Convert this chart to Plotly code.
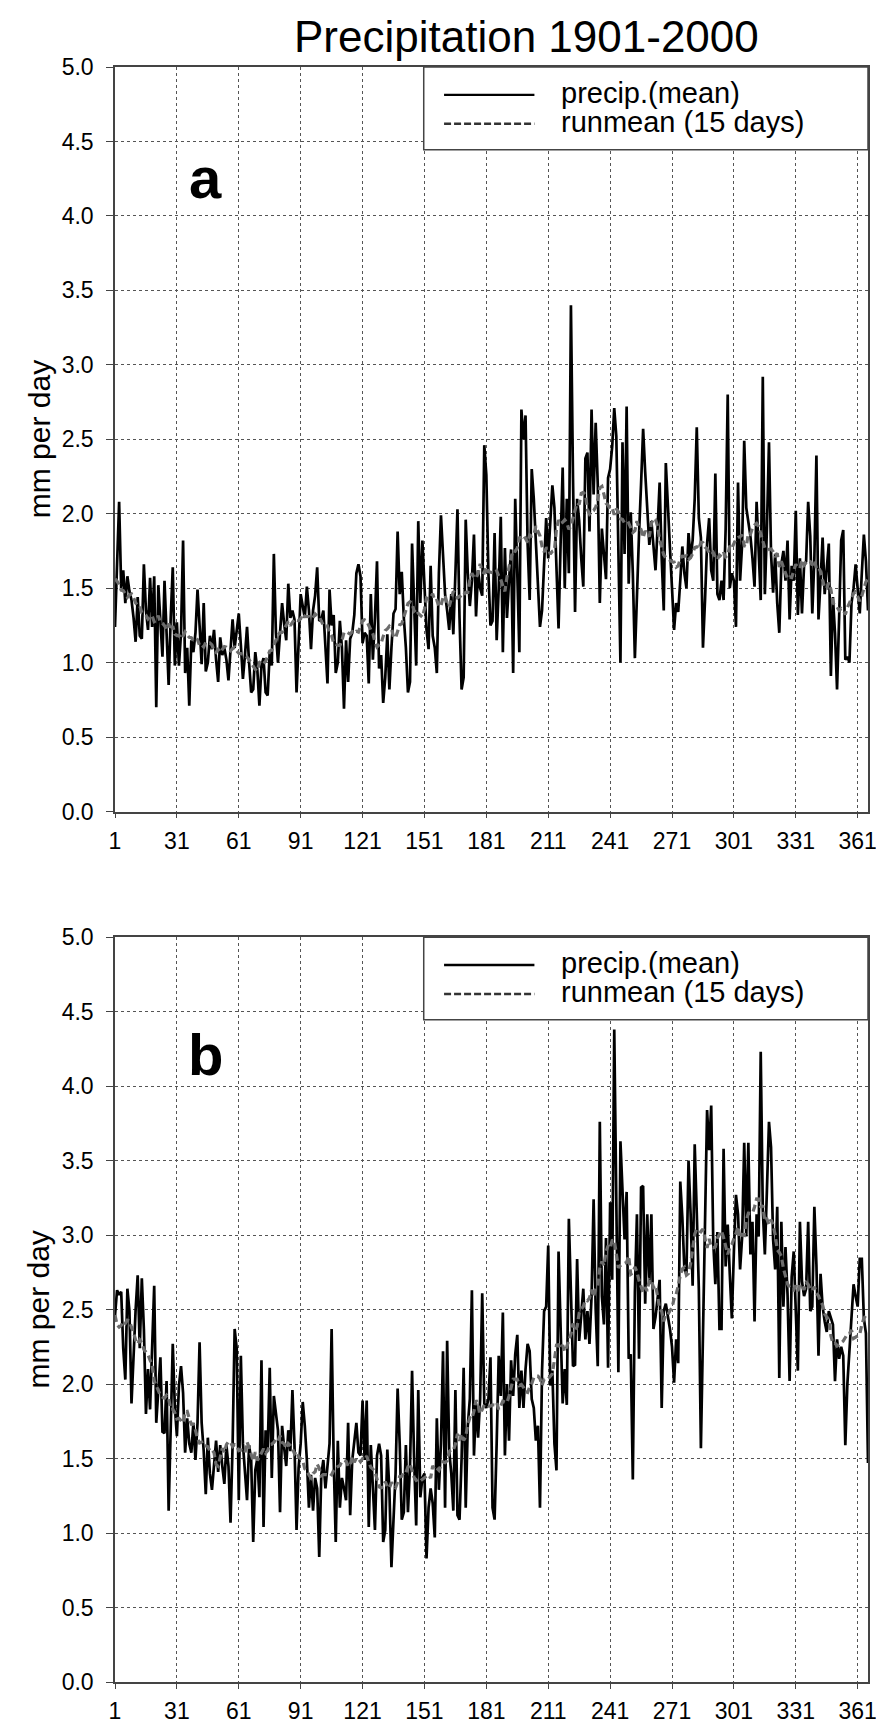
import pandas as pd
import plotly.graph_objects as go
from plotly.subplots import make_subplots

# daily mean precipitation (mm per day), day of year 1..366
precip_a = [
    1.24, 1.60, 2.08, 1.50, 1.62, 1.40, 1.58, 1.48, 1.42, 1.30,
    1.14, 1.44, 1.18, 1.16, 1.66, 1.35, 1.22, 1.57, 1.24, 1.58,
    0.70, 1.52, 1.30, 1.04, 1.55, 1.20, 0.85, 1.30, 1.64, 0.98,
    1.27, 0.98, 1.20, 1.82, 0.93, 1.10, 0.71, 1.15, 1.07, 1.20,
    1.49, 1.25, 0.99, 1.40, 0.94, 1.00, 1.18, 1.09, 1.22, 1.02,
    0.87, 1.17, 1.05, 1.10, 1.02, 0.88, 1.10, 1.29, 1.10, 1.20,
    1.33, 1.12, 0.89, 1.05, 1.24, 1.00, 0.80, 0.82, 1.07, 0.95,
    0.71, 0.98, 1.03, 0.80, 0.78, 1.07, 0.98, 1.73, 1.20, 1.00,
    1.20, 1.40, 1.26, 1.15, 1.53, 1.30, 1.35, 1.29, 0.80, 1.10,
    1.46, 1.38, 1.30, 1.51, 1.35, 1.09, 1.35, 1.45, 1.64, 1.28,
    1.29, 1.35, 1.10, 0.86, 1.49, 1.25, 1.32, 0.93, 1.00, 1.28,
    1.10, 0.69, 1.15, 0.87, 1.16, 1.20, 1.32, 1.60, 1.66, 1.58,
    1.13, 1.20, 1.18, 0.86, 1.46, 1.02, 1.30, 1.68, 0.96, 1.05,
    0.73, 0.90, 1.19, 0.82, 1.10, 1.33, 1.36, 1.88, 1.46, 1.61,
    1.30, 1.10, 0.80, 0.87, 1.80, 1.30, 0.98, 1.95, 1.40, 1.82,
    1.50, 1.22, 1.09, 1.65, 1.18, 1.10, 0.93, 1.60, 1.99, 1.70,
    1.46, 1.35, 1.22, 1.46, 1.19, 1.60, 2.03, 1.30, 0.82, 0.90,
    1.96, 1.60, 1.38, 1.55, 1.86, 1.31, 1.62, 1.50, 1.45, 2.46,
    2.26, 1.60, 1.25, 1.28, 1.87, 1.15, 1.50, 1.98, 1.07, 1.77,
    1.30, 1.55, 1.76, 0.93, 2.10, 1.60, 1.07, 2.70, 2.50, 2.66,
    1.80, 1.42, 2.30, 2.10, 1.82, 1.50, 1.24, 1.35, 1.70, 1.97,
    1.70, 1.98, 2.19, 2.04, 1.60, 1.23, 1.80, 2.31, 1.50, 2.10,
    1.60, 3.40, 2.24, 1.34, 2.10, 1.95, 1.70, 1.51, 2.37, 2.41,
    1.88, 2.70, 2.13, 2.61, 2.20, 1.40, 1.90, 1.75, 1.56, 2.24,
    2.30, 2.45, 2.71, 2.52, 1.60, 1.00, 2.48, 1.73, 2.72, 1.53,
    2.01, 1.60, 1.03, 1.50, 1.86, 2.20, 2.57, 2.28, 2.00, 1.79,
    1.95, 1.75, 1.62, 1.90, 2.21, 1.70, 1.35, 2.34, 2.00, 1.77,
    1.50, 1.22, 1.40, 1.34, 1.55, 1.78, 1.60, 1.50, 1.87, 1.70,
    1.82, 2.10, 2.58, 1.97, 1.84, 1.10, 1.42, 1.80, 1.97, 1.62,
    1.55, 2.27, 1.46, 1.42, 1.55, 1.42, 1.90, 2.80, 1.50, 1.60,
    1.55, 1.24, 2.21, 1.55, 1.80, 2.49, 2.04, 1.95, 1.85, 1.70,
    1.51, 2.08, 1.70, 1.42, 2.92, 1.46, 1.90, 2.48, 1.73, 1.47,
    1.73, 1.40, 1.20, 1.66, 1.75, 1.55, 1.82, 1.29, 1.65, 1.55,
    2.02, 1.32, 1.70, 1.33, 1.65, 1.68, 2.08, 1.85, 1.33, 1.70,
    2.39, 1.29, 1.55, 1.84, 1.46, 1.65, 1.80, 0.91, 1.44, 1.20,
    0.82, 1.30, 1.82, 1.89, 1.02, 1.04, 1.00, 1.40, 1.50, 1.66,
    1.51, 1.33, 1.60, 1.86, 1.68, 1.35,
]

precip_b = [
    2.46, 2.63, 2.60, 2.62, 2.24, 2.03, 2.64, 2.49, 1.87, 2.24,
    2.50, 2.73, 2.24, 2.71, 2.37, 1.80, 2.10, 1.83, 2.24, 2.66,
    1.74, 1.95, 2.18, 1.68, 1.67, 2.02, 1.15, 1.70, 2.27, 1.85,
    1.65, 1.99, 2.12, 1.94, 1.54, 1.77, 1.60, 1.54, 1.74, 1.49,
    1.74, 2.28, 1.74, 1.55, 1.26, 1.64, 1.40, 1.29, 1.49, 1.62,
    1.41, 1.59, 1.45, 1.33, 1.59, 1.45, 1.07, 1.59, 2.37, 2.24,
    1.22, 2.19, 1.60, 1.40, 1.22, 1.59, 1.49, 0.94, 1.42, 1.50,
    1.24, 2.16, 1.04, 1.69, 1.55, 2.11, 1.37, 1.92, 1.79, 1.69,
    1.14, 1.72, 1.57, 1.45, 1.69, 1.55, 1.96, 1.59, 1.02, 1.44,
    1.60, 1.88, 1.72, 1.49, 1.17, 1.39, 1.15, 1.37, 1.30, 0.84,
    1.39, 1.49, 1.30, 1.47, 1.60, 2.37, 1.49, 0.94, 1.62, 1.17,
    1.37, 1.30, 1.22, 1.74, 1.12, 1.49, 1.60, 1.74, 1.54, 1.52,
    1.89, 1.49, 1.89, 1.04, 1.59, 1.30, 1.02, 1.52, 1.60, 1.52,
    0.94, 1.02, 1.56, 1.29, 0.77, 1.09, 1.40, 1.97, 1.60, 1.09,
    1.14, 1.59, 1.14, 1.45, 2.09, 1.49, 1.05, 1.96, 1.24, 1.37,
    1.40, 0.83, 1.17, 1.30, 1.20, 0.97, 1.77, 1.29, 1.60, 2.22,
    1.17, 2.29, 1.55, 1.40, 1.15, 1.96, 1.12, 1.09, 1.50, 2.11,
    1.17, 1.72, 1.90, 2.63, 1.52, 1.87, 1.64, 1.90, 2.61, 1.87,
    1.84, 1.90, 2.18, 1.17, 1.09, 1.60, 2.19, 1.92, 2.48, 1.52,
    2.00, 1.62, 2.16, 1.92, 2.20, 2.33, 1.84, 2.09, 1.84, 2.10,
    2.27, 2.22, 1.90, 1.84, 1.62, 1.72, 1.17, 2.09, 2.49, 2.52,
    2.93, 1.99, 2.09, 1.60, 1.42, 2.89, 2.29, 1.87, 2.10, 1.86,
    3.11, 2.67, 2.12, 2.13, 2.84, 2.29, 2.50, 2.64, 2.30, 2.49,
    2.27, 2.59, 3.24, 2.50, 2.12, 3.76, 2.59, 2.40, 2.98, 2.11,
    3.22, 2.70, 4.38, 2.99, 2.08, 3.63, 3.24, 2.97, 3.29, 2.17,
    2.20, 1.36, 2.62, 3.14, 2.17, 3.32, 3.33, 2.54, 3.14, 2.67,
    3.14, 2.37, 2.45, 2.59, 2.70, 1.84, 2.49, 2.54, 2.46, 2.37,
    2.25, 2.01, 2.30, 2.14, 3.36, 3.12, 2.77, 2.74, 3.50, 3.15,
    2.66, 3.61, 3.15, 2.64, 1.57, 2.42, 2.99, 3.84, 3.57, 3.87,
    2.95, 2.67, 3.02, 2.37, 2.37, 3.58, 2.79, 3.07, 2.74, 2.44,
    2.89, 3.27, 3.14, 2.77, 2.99, 3.62, 2.99, 3.62, 2.87, 3.09,
    2.42, 3.14, 2.99, 4.23, 3.17, 2.87, 3.30, 3.76, 3.59, 2.97,
    2.77, 3.19, 2.04, 3.09, 2.52, 2.92, 2.60, 2.02, 2.72, 2.89,
    2.49, 2.09, 3.09, 2.69, 2.59, 2.64, 3.09, 2.49, 2.52, 3.19,
    2.80, 2.19, 2.74, 2.52, 2.42, 2.35, 2.49, 2.45, 2.40, 2.02,
    2.30, 2.17, 2.25, 2.19, 1.59, 2.00, 2.24, 2.45, 2.67, 2.59,
    2.52, 2.84, 2.84, 2.44, 2.34, 1.47,
]

x_ticks = [1, 31, 61, 91, 121, 151, 181, 211, 241, 271, 301, 331, 361]
y_ticks = [0.0, 0.5, 1.0, 1.5, 2.0, 2.5, 3.0, 3.5, 4.0, 4.5, 5.0]
panel_labels = ["a", "b"]
series_names = ["precip.(mean)", "runmean (15 days)"]
title_text = "Precipitation 1901-2000"
y_title = "mm per day"

FONT = "Liberation Sans, Arial, Helvetica, sans-serif"

fig = make_subplots(rows=2, cols=1)

for row, vals in enumerate([precip_a, precip_b], start=1):
    days = list(range(1, len(vals) + 1))
    # 15 day centred running mean of the daily values
    runmean = pd.Series(vals).rolling(15, center=True, min_periods=1).mean()
    fig.add_trace(go.Scatter(x=days, y=vals, mode="lines", name=series_names[0],
                             line=dict(color="black", width=2.7)), row=row, col=1)
    fig.add_trace(go.Scatter(x=days, y=runmean, mode="lines", name=series_names[1],
                             line=dict(color="#6c6c6c", width=3.2, dash="7px,4px")), row=row, col=1)

axis_common = dict(showline=True, linecolor="#444", linewidth=1.5, mirror=True,
                   showgrid=True, gridcolor="#555", gridwidth=1, griddash="dot",
                   zeroline=False, ticks="outside", tickcolor="#444",
                   tickfont=dict(size=23, color="black", family=FONT))

fig.update_xaxes(range=[1, 366], tickvals=x_ticks, ticklen=5, ticklabelstandoff=3, **axis_common)
fig.update_yaxes(range=[0, 5], tickvals=y_ticks, tickformat=".1f", ticklen=7,
                 ticklabelstandoff=8, **axis_common)

fig.update_layout(
    width=884, height=1728,
    margin=dict(l=107, r=24, t=59, b=29),
    plot_bgcolor="white", paper_bgcolor="white",
    showlegend=False,
    font=dict(family=FONT, color="black"),
    yaxis=dict(domain=[0.539, 1.0]),
    yaxis2=dict(domain=[0.0, 0.4612]),
)

# title, right end pinned where the reference text ends
fig.add_annotation(text=title_text, xref="paper", yref="paper", x=0.858, y=1.0354,
                   xanchor="right", yanchor="top", showarrow=False,
                   font=dict(size=44, family=FONT, color="black"))

shapes = []
for i, axn in enumerate(["", "2"]):
    xd, yd = "x%s domain" % axn, "y%s domain" % axn
    # y axis title
    fig.add_annotation(text=y_title, xref="paper", yref=yd, x=-0.101, y=0.5,
                       xanchor="center", yanchor="middle", textangle=-90, showarrow=False,
                       font=dict(size=30, family=FONT, color="black"))
    # panel letter
    fig.add_annotation(text="<b>%s</b>" % panel_labels[i], xref=xd, yref=yd, x=0.12,
                       y=[0.852, 0.842][i], xanchor="center", yanchor="middle", showarrow=False,
                       font=dict(size=58, family=FONT, color="black"))
    # hand drawn legend box
    shapes.append(dict(type="rect", xref=xd, yref=yd, x0=0.41, x1=1.0, y0=0.889, y1=1.0,
                       line=dict(color="#444", width=1.5), fillcolor="white", layer="above"))
    shapes.append(dict(type="line", xref=xd, yref=yd, x0=0.437, x1=0.557, y0=0.9626, y1=0.9626,
                       line=dict(color="black", width=2.4)))
    shapes.append(dict(type="line", xref=xd, yref=yd, x0=0.437, x1=0.557, y0=0.9237, y1=0.9237,
                       line=dict(color="#333", width=2.4, dash="7px,3px")))
    for name, yy in zip(series_names, [0.9656, 0.926]):
        fig.add_annotation(text=name, xref=xd, yref=yd, x=0.589, y=yy,
                           xanchor="left", yanchor="middle", showarrow=False,
                           font=dict(size=29, family=FONT, color="black"))

fig.update_layout(shapes=shapes)

fig.write_html("out.html")
